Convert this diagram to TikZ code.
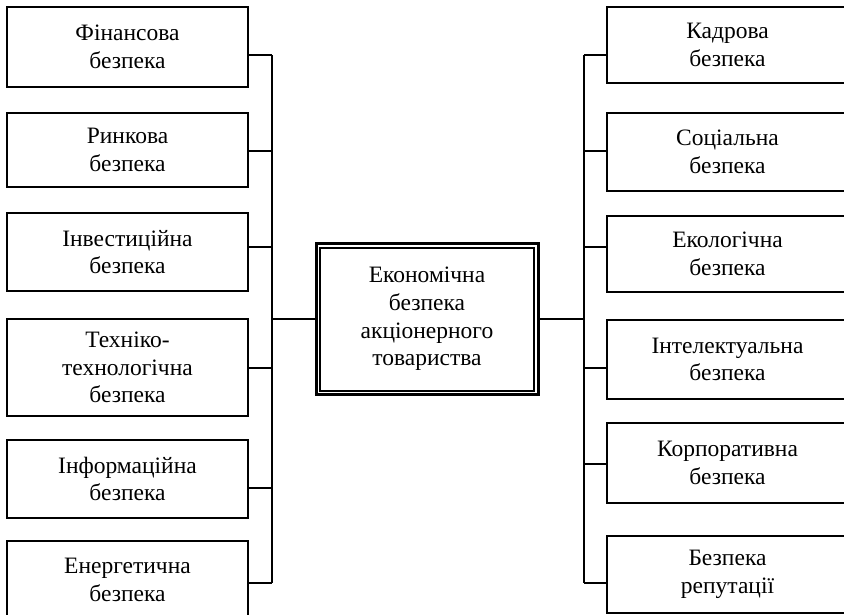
\documentclass[tikz,border=0pt]{standalone}
\usepackage{fontspec}
\setmainfont{Liberation Serif}
\usetikzlibrary{calc}
\begin{document}
\begin{tikzpicture}[x=1pt,y=-1pt,
  box/.style={draw, line width=1.3pt, minimum width=241pt, inner sep=0pt, align=center,
    font=\fontsize{23.5}{27.7}\selectfont},
  centerbox/.style={draw, line width=3pt, minimum width=222pt, minimum height=151pt, inner sep=0pt,
    align=center, font=\fontsize{23.5}{27.7}\selectfont},
  conn/.style={line width=1.4pt}]
\useasboundingbox (0,0) rectangle (844,614);
\clip (0,0) rectangle (844,614);
% left column
\node[box, minimum height=80pt] (L1) at (127.5,47) {Фінансова\\безпека};
\node[box, minimum height=74pt] (L2) at (127.5,150) {Ринкова\\безпека};
\node[box, minimum height=78pt] (L3) at (127.5,252) {Інвестиційна\\безпека};
\node[box, minimum height=97pt] (L4) at (127.5,367.5) {Техніко-\\технологічна\\безпека};
\node[box, minimum height=78pt] (L5) at (127.5,479) {Інформаційна\\безпека};
\node[box, minimum height=78pt] (L6) at (127.5,580) {Енергетична\\безпека};
% right column
\node[box, minimum height=76pt] (R1) at (727.5,45) {Кадрова\\безпека};
\node[box, minimum height=78pt] (R2) at (727.5,152) {Соціальна\\безпека};
\node[box, minimum height=76pt] (R3) at (727.5,254) {Екологічна\\безпека};
\node[box, minimum height=79pt] (R4) at (727.5,359.5) {Інтелектуальна\\безпека};
\node[box, minimum height=80pt] (R5) at (727.5,463) {Корпоративна\\безпека};
\node[box, minimum height=77pt] (R6) at (727.5,574.5) {Безпека\\репутації};
% center
\node[centerbox] (C) at (427,319) {Економічна\\безпека\\акціонерного\\товариства};
\draw[line width=2pt] ($(C.north west)+(5.5,5.5)$) rectangle ($(C.south east)+(-5.5,-5.5)$);
% bus coordinates
\coordinate (a1) at (272,55);
\coordinate (a2) at (272,151);
\coordinate (a3) at (272,247);
\coordinate (a4) at (272,368);
\coordinate (a5) at (272,488);
\coordinate (a6) at (272,583);
\coordinate (b1) at (584,55);
\coordinate (b2) at (584,151);
\coordinate (b3) at (584,247);
\coordinate (b4) at (584,368);
\coordinate (b5) at (584,464);
\coordinate (b6) at (584,583);
\draw[conn] (a1) -- (a6);
\draw[conn] (b1) -- (b6);
\foreach \i in {1,...,6} {
  \draw[conn] (a\i -| L\i.east) -- (a\i);
  \draw[conn] (b\i -| R\i.west) -- (b\i);
}
\draw[conn] (C.west) -- (C.west -| a1);
\draw[conn] (C.east) -- (C.east -| b1);
\end{tikzpicture}
\end{document}
